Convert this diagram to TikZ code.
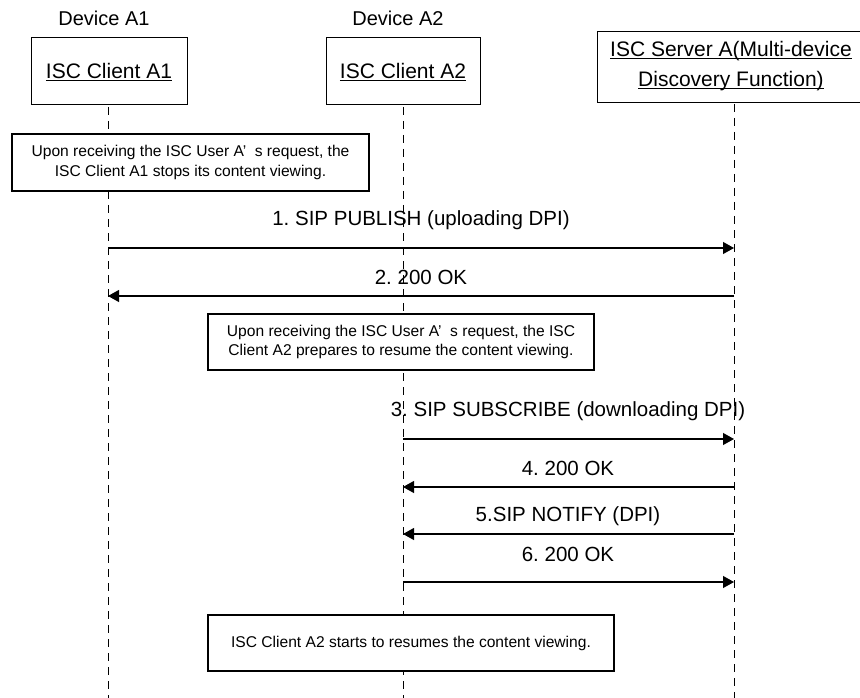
\documentclass[tikz,border=0pt]{standalone}
\usepackage{fontspec}
\setmainfont{Liberation Sans}
\frenchspacing
\usetikzlibrary{arrows.meta}
\newcommand\myul[1]{\underline{\smash{#1}}}
\begin{document}
\begin{tikzpicture}[x=1pt,y=-1pt,
  actor/.style={draw,line width=0.9pt,fill=white,inner sep=0pt},
  devlbl/.style={font=\fontsize{20}{24}\selectfont,inner sep=0pt},
  actlbl/.style={font=\fontsize{21}{25}\selectfont,inner sep=0pt,anchor=base},
  notebox/.style={draw,line width=1.5pt,fill=white,inner sep=0pt,align=center,font=\fontsize{15.6}{19.5}\selectfont},
  life/.style={line width=0.9pt,dash pattern=on 8pt off 6pt},
  msg/.style={line width=1.1pt,-{Triangle[length=11pt,width=12pt]}},
  msglbl/.style={font=\fontsize{20.5}{24}\selectfont,inner sep=0pt}]
\useasboundingbox (0,0) rectangle (860,698);
% lifelines
\coordinate (l1t) at (108,107); \coordinate (l1b) at (108,698);
\coordinate (l2t) at (403,107); \coordinate (l2b) at (403,698);
\coordinate (l3t) at (734,104); \coordinate (l3b) at (734,698);
\draw[life] (l1t) -- (l1b);
\draw[life] (l2t) -- (l2b);
\draw[life] (l3t) -- (l3b);
% device labels
\node[devlbl] (d1) at (104,18) {Device A1};
\node[devlbl] (d2) at (398,18) {Device A2};
% actor boxes
\node[actor,minimum width=156pt,minimum height=67pt] (a1) at (109,70.5) {};
\node[actlbl] (a1t) at (109,79) {\myul{ISC Client A1}};
\node[actor,minimum width=154pt,minimum height=67pt] (a2) at (403,70.5) {};
\node[actlbl] (a2t) at (403,79) {\myul{ISC Client A2}};
\node[actor,minimum width=264pt,minimum height=71pt] (srv) at (729,66.5) {};
\node[actlbl] (srv1) at (731,57) {\myul{ISC Server A(Multi-device}};
\node[actlbl] (srv2) at (731,87) {\myul{Discovery Function)}};
% note 1
\node[notebox,minimum width=357pt,minimum height=57pt] (n1) at (190.5,162.5)
  {Upon receiving the ISC User A’\hspace{0.55em}s request, the\\ISC Client A1 stops its content viewing.};
% message 1
\coordinate (m1s) at (108,248); \coordinate (m1e) at (734,248);
\draw[msg] (m1s) -- (m1e);
\node[msglbl] (t1) at (421,220) {1. SIP PUBLISH (uploading DPI)};
% message 2
\coordinate (m2s) at (734,296); \coordinate (m2e) at (108,296);
\draw[msg] (m2s) -- (m2e);
\node[msglbl] (t2) at (421,277) {2. 200 OK};
% note 2
\node[notebox,minimum width=386pt,minimum height=56pt] (n2) at (401,342)
  {Upon receiving the ISC User A’\hspace{0.55em}s request, the ISC\\Client A2 prepares to resume the content viewing.};
% message 3
\coordinate (m3s) at (403,439); \coordinate (m3e) at (734,439);
\draw[msg] (m3s) -- (m3e);
\node[msglbl] (t3) at (568,411) {3. SIP SUBSCRIBE (downloading DPI)};
% message 4
\coordinate (m4s) at (734,487); \coordinate (m4e) at (403,487);
\draw[msg] (m4s) -- (m4e);
\node[msglbl] (t4) at (568,468) {4. 200 OK};
% message 5
\coordinate (m5s) at (734,534); \coordinate (m5e) at (403,534);
\draw[msg] (m5s) -- (m5e);
\node[msglbl] (t5) at (568,516) {5.SIP NOTIFY (DPI)};
% message 6
\coordinate (m6s) at (403,582); \coordinate (m6e) at (734,582);
\draw[msg] (m6s) -- (m6e);
\node[msglbl] (t6) at (568,554) {6. 200 OK};
% note 3
\node[notebox,minimum width=406pt,minimum height=56pt] (n3) at (411,643)
  {ISC Client A2 starts to resumes the content viewing.};
\end{tikzpicture}
\end{document}
